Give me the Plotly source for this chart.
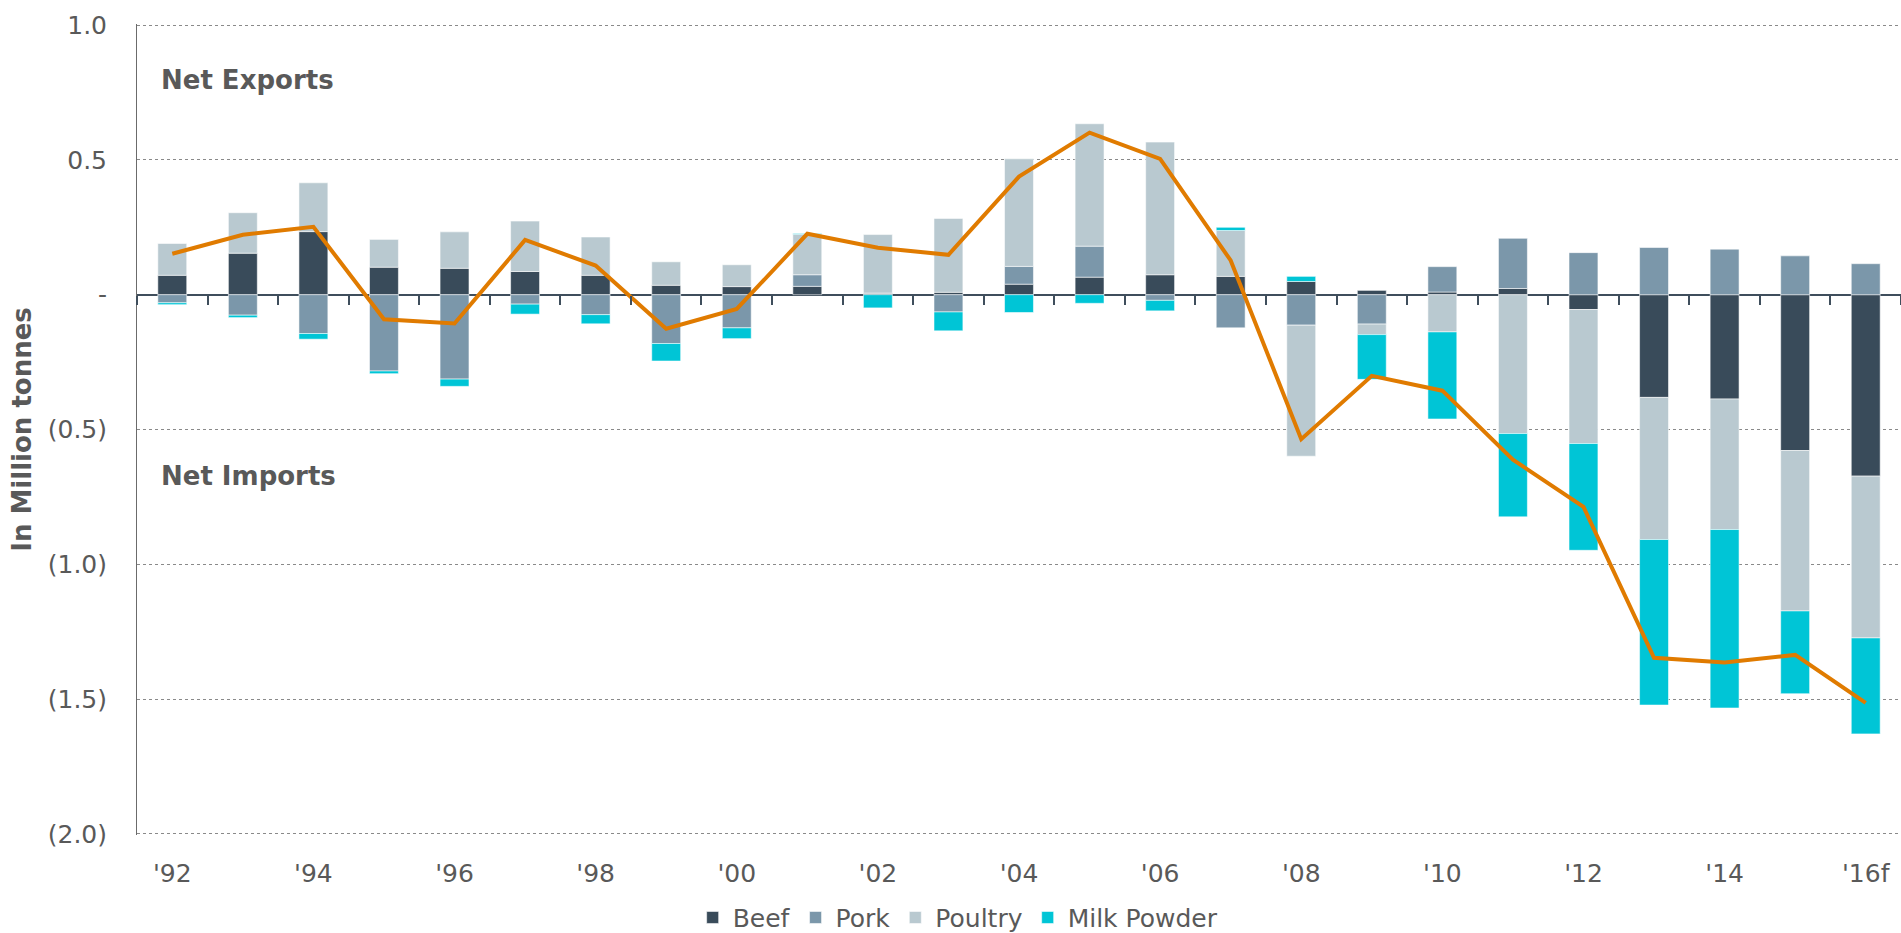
import plotly.graph_objects as go

# Years on the category axis ('16 is a forecast)
years = ["1992", "1993", "1994", "1995", "1996", "1997", "1998", "1999", "2000",
         "2001", "2002", "2003", "2004", "2005", "2006", "2007", "2008", "2009",
         "2010", "2011", "2012", "2013", "2014", "2015", "2016f"]
tick_years = years[::2]
tick_labels = ["'92", "'94", "'96", "'98", "'00", "'02", "'04", "'06", "'08",
               "'10", "'12", "'14", "'16f"]

# Net exports (+) / net imports (-) by product, million tonnes
beef = [0.072, 0.154, 0.234, 0.102, 0.098, 0.086, 0.072, 0.035, 0.030, 0.031,
        0.006, 0.009, 0.039, 0.065, 0.074, 0.068, 0.049, 0.016, 0.010, 0.023,
        -0.055, -0.381, -0.387, -0.578, -0.673]
pork = [-0.030, -0.076, -0.144, -0.283, -0.313, -0.035, -0.074, -0.181, -0.123, 0.043,
        0.0, -0.064, 0.066, 0.115, -0.021, -0.123, -0.113, -0.109, 0.094, 0.186,
        0.156, 0.175, 0.169, 0.144, 0.115]
poultry = [0.118, 0.150, 0.181, 0.103, 0.135, 0.187, 0.142, 0.087, 0.081, 0.150,
           0.217, 0.274, 0.399, 0.454, 0.492, 0.170, -0.486, -0.039, -0.138, -0.515,
           -0.497, -0.527, -0.484, -0.595, -0.600]
milk_powder = [-0.007, -0.009, -0.021, -0.010, -0.027, -0.037, -0.034, -0.065, -0.040, 0.003,
               -0.049, -0.070, -0.066, -0.032, -0.039, 0.012, 0.019, -0.166, -0.323, -0.309,
               -0.396, -0.614, -0.662, -0.307, -0.356]

# Net total trade position
net_total = [0.152, 0.222, 0.252, -0.091, -0.107, 0.203, 0.108, -0.126, -0.053, 0.226,
             0.174, 0.148, 0.438, 0.601, 0.504, 0.127, -0.536, -0.301, -0.356, -0.612,
             -0.787, -1.347, -1.364, -1.336, -1.514]

y_ticks = [-2.0, -1.5, -1.0, -0.5, 0.0, 0.5, 1.0]
y_tick_labels = ["(2.0)", "(1.5)", "(1.0)", "(0.5)", "-", "0.5", "1.0"]

FONT = "DejaVu Sans"
TEXT_GREY = "#595959"
AXIS_DARK = "#3f4e5c"
Y_RANGE = [-2.004, 1.004]

series = [
    ("Beef", beef, "#394b5a"),
    ("Pork", pork, "#7b97aa"),
    ("Poultry", poultry, "#b9c9d0"),
    ("Milk Powder", milk_powder, "#00c5d6"),
]

fig = go.Figure()
for name, values, color in series:
    fig.add_trace(go.Bar(
        x=years, y=values, name=name,
        marker=dict(color=color, line=dict(color="rgba(255,255,255,0.55)", width=1)),
        xaxis="x", yaxis="y",
    ))

fig.add_trace(go.Scatter(
    x=years, y=net_total, mode="lines", name="Net",
    line=dict(color="#e07b00", width=4),
    showlegend=False, xaxis="x2", yaxis="y",
))

zero_pos = (0 - Y_RANGE[0]) / (Y_RANGE[1] - Y_RANGE[0])

fig.update_layout(
    width=1901, height=933,
    margin=dict(l=137, r=0, t=24, b=98, autoexpand=False),
    paper_bgcolor="white", plot_bgcolor="white",
    barmode="relative", bargap=0.59,
    font=dict(family=FONT, color=TEXT_GREY, size=24),
    showlegend=True,
    legend=dict(
        orientation="h", x=0.4655, xanchor="center", y=-0.102, yanchor="middle",
        font=dict(family=FONT, size=25, color=TEXT_GREY),
        traceorder="normal", itemwidth=30,
    ),
    xaxis=dict(
        type="category", categoryorder="array", categoryarray=years,
        range=[-0.5, len(years) - 0.5],
        tickvals=tick_years, ticktext=tick_labels,
        ticks="", showline=False, showgrid=False, zeroline=False,
        tickfont=dict(family=FONT, size=25, color=TEXT_GREY),
        ticklabelstandoff=21,
    ),
    xaxis2=dict(
        type="category", categoryorder="array", categoryarray=years,
        range=[-0.5, len(years) - 0.5],
        overlaying="x", anchor="free", position=zero_pos, side="bottom",
        showticklabels=False, showgrid=False, showline=False, zeroline=False,
        ticks="outside", tickson="boundaries", ticklen=9, tickwidth=2,
        tickcolor=AXIS_DARK,
    ),
    yaxis=dict(
        range=Y_RANGE,
        tickvals=y_ticks, ticktext=y_tick_labels,
        tickfont=dict(family=FONT, size=25, color=TEXT_GREY),
        ticks="", ticklabelstandoff=24,
        showgrid=True, gridcolor="#8a8a8a", griddash="dot", gridwidth=1,
        showline=True, linecolor="#6b6b6b", linewidth=1,
        zeroline=True, zerolinecolor=AXIS_DARK, zerolinewidth=2,
        title=dict(text="<b>In Million tonnes</b>",
                   font=dict(family=FONT, size=26, color=TEXT_GREY),
                   standoff=8),
    ),
    annotations=[
        dict(text="<b>Net Exports</b>", xref="paper", x=0.0125, xanchor="left",
             yref="y", y=0.796, yanchor="middle", showarrow=False,
             font=dict(family=FONT, size=26, color=TEXT_GREY)),
        dict(text="<b>Net Imports</b>", xref="paper", x=0.0125, xanchor="left",
             yref="y", y=-0.672, yanchor="middle", showarrow=False,
             font=dict(family=FONT, size=26, color=TEXT_GREY)),
    ],
)

fig.write_html("out.html")
